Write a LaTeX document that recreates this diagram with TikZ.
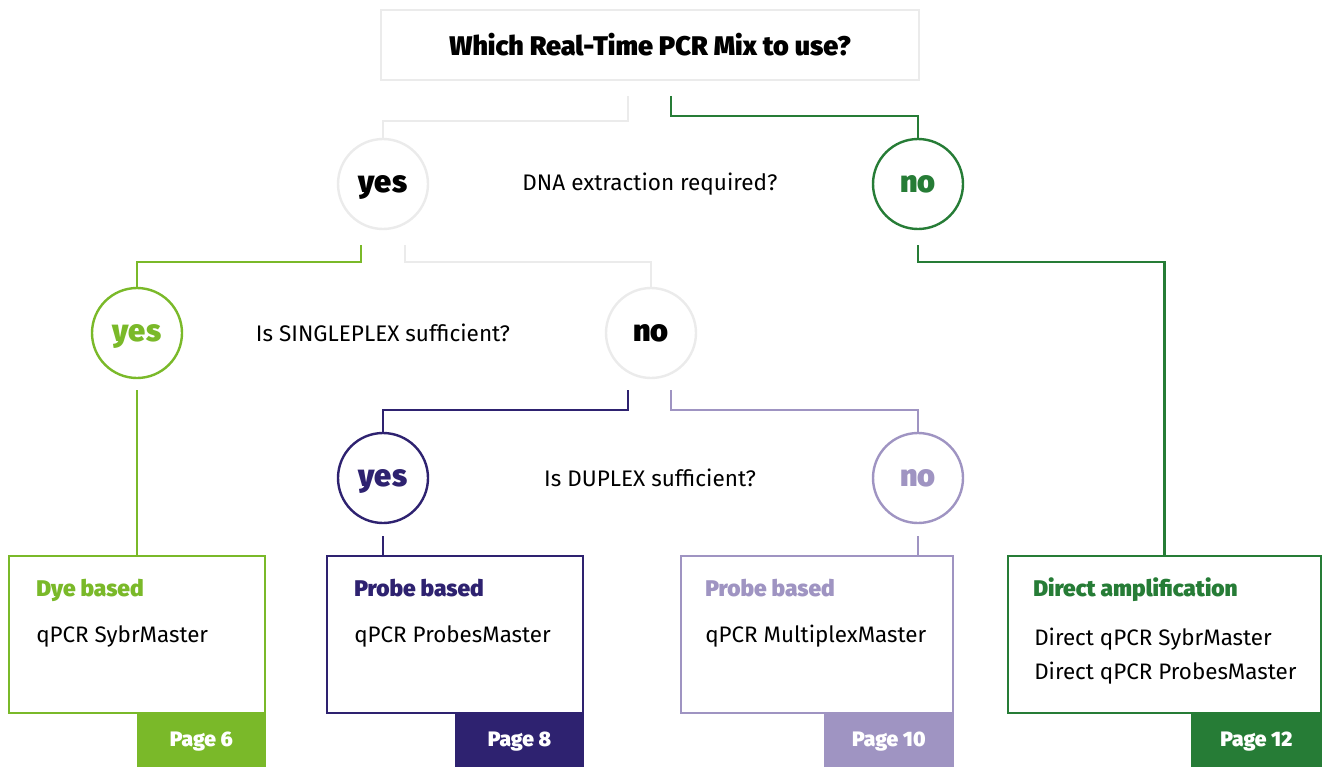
\documentclass[tikz,border=0pt]{standalone}
\usepackage{fontspec}
\setmainfont{Fira Sans}[BoldFont={Fira Sans Black}]
\begin{document}
\begin{tikzpicture}[x=0.75pt,y=-0.75pt,
  conn/.style={line width=1.6pt},
  circ/.style={circle, line width=1.8pt, minimum size=67.5pt, inner sep=0pt, fill=white, text depth=0pt, font=\fontsize{23pt}{25pt}\selectfont\bfseries},
  question/.style={font=\fontsize{16.9pt}{19pt}\selectfont, text=black},
  resbox/.style={rectangle, line width=1.8pt, minimum height=117.75pt, inner sep=0pt, fill=white},
  tab/.style={rectangle, inner sep=0pt, minimum height=40.5pt, text=white, font=\fontsize{15.7pt}{17pt}\selectfont\bfseries},
  boxtitle/.style={anchor=base west, inner sep=0pt, font=\fontsize{17pt}{19pt}\selectfont\bfseries},
  boxtext/.style={anchor=base west, inner sep=0pt, font=\fontsize{16.8pt}{19pt}\selectfont, text=black}
]
\definecolor{cLG}{HTML}{7AB929}
\definecolor{cDG}{HTML}{267C36}
\definecolor{cNV}{HTML}{2E2270}
\definecolor{cLV}{HTML}{9F94C2}
\definecolor{cGR}{HTML}{EBEBEB}
\useasboundingbox (0,0) rectangle (1324,767);

% title
\node[rectangle, draw=cGR, line width=2.2pt, minimum width=403.5pt, minimum height=52.5pt, inner sep=0pt,
  font=\fontsize{20.2pt}{22pt}\selectfont\bfseries] (title) at (650,45) {Which Real-Time PCR Mix to use?};

% circles
\node[circ, draw=cGR] (yes1) at (383,184) {yes};
\node[circ, draw=cDG, text=cDG] (no1) at (918,184) {no};
\node[question] (q1) at (650,184) {DNA extraction required?};

\node[circ, draw=cLG, text=cLG] (yes2) at (137,333) {yes};
\node[circ, draw=cGR] (no2) at (651,333) {no};
\node[question] (q2) at (383,333) {Is SINGLEPLEX sufficient?};

\node[circ, draw=cNV, text=cNV] (yes3) at (383,478) {yes};
\node[circ, draw=cLV, text=cLV] (no3) at (918,478) {no};
\node[question] (q3) at (650,478) {Is DUPLEX sufficient?};

% result boxes
\node[resbox, draw=cLG, minimum width=192pt] (box1) at (137,634.5) {};
\node[resbox, draw=cNV, minimum width=192pt] (box2) at (455,634.5) {};
\node[resbox, draw=cLV, minimum width=204pt] (box3) at (817,634.5) {};
\node[resbox, draw=cDG, minimum width=234.75pt] (box4) at (1164.5,634.5) {};

\node[tab, fill=cLG, minimum width=96.75pt, anchor=north east] (tab1) at (box1.south east) {Page 6};
\node[tab, fill=cNV, minimum width=96.75pt, anchor=north east] (tab2) at (box2.south east) {Page 8};
\node[tab, fill=cLV, minimum width=97.5pt, anchor=north east] (tab3) at (box3.south east) {Page 10};
\node[tab, fill=cDG, minimum width=98.25pt, anchor=north east] (tab4) at (box4.south east) {Page 12};

\node[boxtitle, text=cLG] (b1t) at (36,596) {Dye based};
\node[boxtext] (b1a) at (36,642) {qPCR SybrMaster};
\node[boxtitle, text=cNV] (b2t) at (354,596) {Probe based};
\node[boxtext] (b2a) at (354,642) {qPCR ProbesMaster};
\node[boxtitle, text=cLV] (b3t) at (705,596) {Probe based};
\node[boxtext] (b3a) at (705,642) {qPCR MultiplexMaster};
\node[boxtitle, text=cDG] (b4t) at (1033,596) {Direct amplification};
\node[boxtext] (b4a) at (1034,645) {Direct qPCR SybrMaster};
\node[boxtext] (b4b) at (1034,679) {Direct qPCR ProbesMaster};

% connectors
\coordinate (s1) at (628,96);
\coordinate (s2) at (671,96);
\coordinate (s3) at (361,245);
\coordinate (s4) at (405,245);
\coordinate (s5) at (918,245);
\coordinate (s6) at (137,390);
\coordinate (s7) at (628,390);
\coordinate (s8) at (671,390);
\coordinate (s9) at (383,536);
\coordinate (s10) at (918,536);

\draw[conn, draw=cGR] (s1) -- ++(0,25) -| (yes1.north);
\draw[conn, draw=cDG] (s2) -- ++(0,20) -| (no1.north);
\draw[conn, draw=cLG] (s3) -- ++(0,17) -| (yes2.north);
\draw[conn, draw=cGR] (s4) -- ++(0,17) -| (no2.north);
\draw[conn, draw=cDG] (s5) -- ++(0,17) -| (box4.north);
\draw[conn, draw=cLG] (s6) -- (box1.north);
\draw[conn, draw=cNV] (s7) -- ++(0,20) -| (yes3.north);
\draw[conn, draw=cLV] (s8) -- ++(0,20) -| (no3.north);
\draw[conn, draw=cNV] (s9) -- (s9 |- box2.north);
\draw[conn, draw=cLV] (s10) -- (s10 |- box3.north);
\end{tikzpicture}
\end{document}
